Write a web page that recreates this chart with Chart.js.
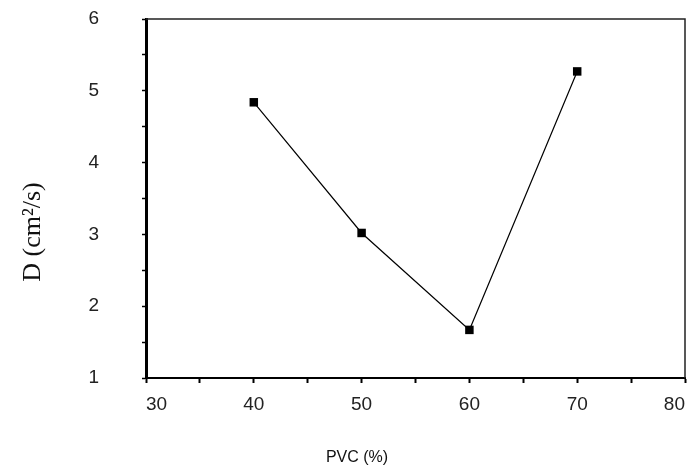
<!DOCTYPE html>
<html>
<head>
<meta charset="utf-8">
<script src="https://cdn.jsdelivr.net/npm/chart.js@4"></script>
<style>
  html, body { margin: 0; padding: 0; background: #fff; }
  #wrap { width: 691px; height: 472px; }
</style>
</head>
<body>
<div id="wrap"><canvas id="grafico"></canvas></div>
<script>
// datos
const pvc = [40, 50, 60, 70];
const difusion = [4.84, 3.02, 1.67, 5.27];
const tituloX = 'PVC (%)';
const tituloY = 'D (cm²/s)';

// marco fino arriba/derecha y titulos de ejes
const marco = {
    id: 'marco',
    afterDraw(chart) {
        const a = chart.chartArea;
        const ctx = chart.ctx;
        ctx.save();
        ctx.strokeStyle = '#222';
        ctx.lineWidth = 1.5;
        ctx.beginPath();
        ctx.moveTo(a.left, a.top);
        ctx.lineTo(a.right, a.top);
        ctx.lineTo(a.right, a.bottom);
        ctx.stroke();
        ctx.fillStyle = '#111';
        ctx.font = '16px "Liberation Sans", Arial, sans-serif';
        ctx.textAlign = 'center';
        ctx.textBaseline = 'middle';
        ctx.fillText(tituloX, 357, 458);
        ctx.translate(33, 232);
        ctx.rotate(-Math.PI / 2);
        ctx.font = '26px "Liberation Serif", "Times New Roman", serif';
        ctx.fillText(tituloY, 0, 0);
        ctx.restore();
    }
};

const ctx = document.getElementById('grafico').getContext('2d');
new Chart(ctx, {
    type: 'line',
    data: {
        datasets: [{
            data: pvc.map((x, i) => ({ x: x, y: difusion[i] })),
            borderColor: '#000',
            borderWidth: 1.2,
            backgroundColor: '#000',
            pointStyle: 'rect',
            pointRadius: 6,
            pointBorderWidth: 0,
            tension: 0
        }]
    },
    options: {
        responsive: true,
        maintainAspectRatio: false,
        animation: false,
        layout: { padding: { top: 19, right: 4, left: 0, bottom: 0 } },
        plugins: { legend: { display: false }, tooltip: { enabled: false } },
        scales: {
            x: {
                type: 'linear',
                min: 30,
                max: 80,
                afterFit: s => { s.height = 94; s.paddingLeft = 0; s.paddingRight = 0; },
                border: { color: '#000', width: 2 },
                grid: { drawOnChartArea: false, tickLength: 5, color: '#000', tickWidth: 2 },
                ticks: {
                    stepSize: 5,
                    padding: 10,
                    align: 'inner',
                    color: '#222',
                    font: { family: '"Liberation Sans", Arial, sans-serif', size: 19 },
                    callback: v => (v % 10 === 0 ? v : '')
                }
            },
            y: {
                min: 1,
                max: 6,
                afterFit: s => { s.width = 146; s.paddingTop = 0; s.paddingBottom = 0; },
                border: { color: '#000', width: 3 },
                grid: { drawOnChartArea: false, tickLength: 4, color: '#000', tickWidth: 1.5 },
                ticks: {
                    stepSize: 0.5,
                    padding: 43,
                    color: '#222',
                    font: { family: '"Liberation Sans", Arial, sans-serif', size: 19 },
                    callback: v => (Number.isInteger(v) ? v : '')
                }
            }
        }
    },
    plugins: [marco]
});
</script>
</body>
</html>
